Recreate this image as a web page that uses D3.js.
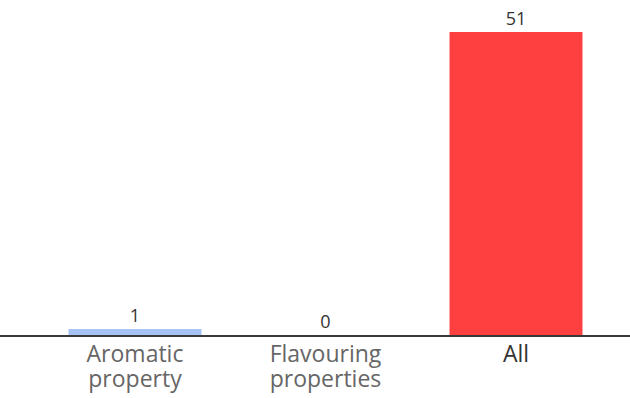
<!DOCTYPE html>
<html><head><meta charset="utf-8">
<script src="https://cdn.jsdelivr.net/npm/d3@7"></script>
<style>body{margin:0;background:#fff}svg{display:block}</style>
</head><body>
<svg id="c" width="630" height="398"></svg>
<script>
const categories = ["Aromatic property", "Flavouring properties", "All"];
const labelLines = [["Aromatic", "property"], ["Flavouring", "properties"], ["All"]];
const values = [1, 0, 51];
const colors = ["#a4c2f4", "#a4c2f4", "#ff4040"];
const labelColors = ["#666", "#666", "#333"];

const svg = d3.select("#c");
const baseY = 335;
const x = d3.scaleBand().domain(categories).range([39.75, 611.25]).paddingInner(0.302).paddingOuter(0.151);
const y = d3.scaleLinear().domain([0, 51]).range([baseY, 32]);

svg.selectAll("rect.bar").data(categories).join("rect")
  .attr("class", "bar")
  .attr("x", d => x(d)).attr("width", x.bandwidth())
  .attr("y", (d, i) => y(values[i])).attr("height", (d, i) => baseY - y(values[i]))
  .attr("fill", (d, i) => colors[i]);

svg.append("line").attr("x1", 0).attr("x2", 630).attr("y1", baseY + 1).attr("y2", baseY + 1)
  .attr("stroke", "#3a3a3a").attr("stroke-width", 2);

svg.selectAll("text.val").data(categories).join("text")
  .attr("class", "val")
  .attr("x", d => x(d) + x.bandwidth() / 2)
  .attr("y", (d, i) => y(values[i]) - 7)
  .attr("text-anchor", "middle")
  .attr("font-family", "'Open Sans', sans-serif").attr("font-size", 18)
  .attr("fill", "#333")
  .text((d, i) => values[i]);

const g = svg.selectAll("text.cat").data(categories).join("text")
  .attr("class", "cat")
  .attr("text-anchor", "middle")
  .attr("font-family", "'Open Sans', sans-serif").attr("font-size", 23)
  .attr("fill", (d, i) => labelColors[i]);
g.each(function(d, i) {
  d3.select(this).selectAll("tspan").data(labelLines[i]).join("tspan")
    .attr("x", x(d) + x.bandwidth() / 2)
    .attr("y", (t, j) => 362 + j * 25)
    .text(t => t);
});
</script>
</body></html>
